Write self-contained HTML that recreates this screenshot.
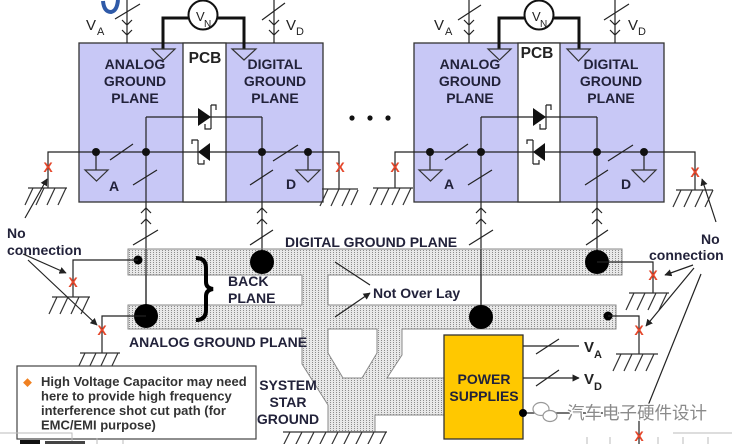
<!DOCTYPE html>
<html><head><meta charset="utf-8">
<style>
html,body{margin:0;padding:0;background:#fff;}
svg{display:block;}
text{font-family:"Liberation Sans","Noto Sans CJK SC",sans-serif;}
.lbl{font-weight:bold;font-size:14px;fill:#22223a;}
.x{font-weight:bold;font-size:14px;fill:#e5472b;text-anchor:middle;}
.w{stroke:#222;stroke-width:1.2;fill:none;}
.g{stroke:#333;stroke-width:1.2;fill:none;}
</style></head><body>
<svg width="732" height="444" viewBox="0 0 732 444" xmlns="http://www.w3.org/2000/svg">
<defs>
<pattern id="dots" width="3" height="2" patternUnits="userSpaceOnUse">
<rect width="3" height="2" fill="#e8e8e8"/>
<rect width="1" height="1" fill="#8c8c8c"/>
</pattern>
<marker id="ah" viewBox="0 0 10 10" refX="9" refY="5" markerWidth="6" markerHeight="6" orient="auto"><path d="M0,0 L10,5 L0,10 z" fill="#222"/></marker>
</defs>

<!-- top-left partial title glyph -->
<path d="M103,1 Q104,12 111,12 Q117,11 118,0" stroke="#2f5aa8" stroke-width="4" fill="none"/>

<!-- ===== LEFT BLOCK ===== -->
<rect x="79" y="43" width="244" height="159" fill="#c8c8f6" stroke="#333" stroke-width="1.3"/>
<rect x="183" y="43" width="43" height="159" fill="#fff" stroke="#333" stroke-width="1.3"/>

<!-- ===== RIGHT BLOCK ===== -->
<rect x="414" y="43" width="250" height="159" fill="#c8c8f6" stroke="#333" stroke-width="1.3"/>
<rect x="518" y="43" width="42" height="159" fill="#fff" stroke="#333" stroke-width="1.3"/>

<!-- top supply lines left -->
<path class="w" d="M127,0 V43 M115,19 L140,4 M122,20 L127,25 L132,20 M122,30 L127,35 L132,30"/>
<path class="w" d="M274,0 V43 M262,20 L285,3 M269,20 L274,25 L279,20 M269,30 L274,35 L279,30"/>
<!-- top supply lines right -->
<path class="w" d="M469,0 V43 M458,20 L481,5 M464,20 L469,25 L474,20 M464,30 L469,35 L474,30"/>
<path class="w" d="M615,0 V43 M604,20 L629,4 M610,20 L615,25 L620,20 M610,30 L615,35 L620,30"/>

<!-- V labels top -->
<text x="86" y="30" font-size="15" fill="#222">V</text><text x="97" y="35" font-size="11" fill="#222">A</text>
<text x="286" y="30" font-size="15" fill="#222">V</text><text x="296" y="35" font-size="11" fill="#222">D</text>
<text x="434" y="30" font-size="15" fill="#222">V</text><text x="445" y="35" font-size="11" fill="#222">A</text>
<text x="628" y="30" font-size="15" fill="#222">V</text><text x="638" y="35" font-size="11" fill="#222">D</text>

<!-- VN meters -->
<path d="M163,49 V18 H190 M216,18 H244 V49" stroke="#111" stroke-width="3" fill="none"/>
<circle cx="203" cy="15" r="14.5" fill="#fff" stroke="#111" stroke-width="2"/>
<text x="196" y="21" font-size="13" fill="#222">V</text><text x="204" y="27" font-size="10" fill="#222">N</text>
<path d="M499,49 V18 H526 M552,18 H579 V49" stroke="#111" stroke-width="3" fill="none"/>
<circle cx="539" cy="15" r="14.5" fill="#fff" stroke="#111" stroke-width="2"/>
<text x="532" y="21" font-size="13" fill="#222">V</text><text x="540" y="27" font-size="10" fill="#222">N</text>
<path class="g" d="M152,49 H175 L163.5,60 Z M232,49 H256 L244,60 Z M488,49 H511 L499.5,60 Z M567,49 H590 L578.5,61 Z"/>

<!-- PCB -->
<text x="205" y="63" font-size="15.5" font-weight="bold" fill="#222" text-anchor="middle">PCB</text>
<text x="537" y="58" font-size="15.5" font-weight="bold" fill="#222" text-anchor="middle">PCB</text>

<!-- block labels -->
<g class="lbl" text-anchor="middle">
<text x="135" y="69">ANALOG</text><text x="135" y="86">GROUND</text><text x="135" y="103">PLANE</text>
<text x="275" y="69">DIGITAL</text><text x="275" y="86">GROUND</text><text x="275" y="103">PLANE</text>
<text x="470" y="69">ANALOG</text><text x="470" y="86">GROUND</text><text x="470" y="103">PLANE</text>
<text x="611" y="69">DIGITAL</text><text x="611" y="86">GROUND</text><text x="611" y="103">PLANE</text>
</g>
<text class="lbl" x="109" y="191">A</text>
<text class="lbl" x="286" y="189">D</text>
<text class="lbl" x="444" y="189">A</text>
<text class="lbl" x="621" y="189">D</text>

<!-- left block wiring -->
<path class="w" d="M146,117 V316 M146,117 H262 M262,117 V262 M48,188 V152 H339 V189"/>
<path class="w" d="M96,152 V170 M308,152 V170"/>
<path class="g" d="M85,170 H108 L96.5,181 Z M296,170 H320 L308,182 Z"/>
<path class="w" d="M110,160 L133,144 M273,161 L298,145 M133,185 L157,170 M250,185 L273,170"/>
<g id="diodes">
<path d="M198,108 L198,126 L211,117 Z" fill="#111"/>
<path class="w" d="M211,105 V129 M211,105 H216 V110 M211,129 H205 V124"/>
<path d="M210,143 L210,161 L198,152 Z" fill="#111"/>
<path class="w" d="M198,140 V164 M198,140 H192 V144 M198,164 H204 V160"/>
</g>
<g fill="#111"><circle cx="96" cy="152" r="4"/><circle cx="146" cy="152" r="4"/><circle cx="262" cy="152" r="4"/><circle cx="308" cy="152" r="4"/></g>

<!-- right block wiring -->
<path class="w" d="M481,117 V317 M481,117 H597 M597,117 V262 M395,188 V152 H695 V190"/>
<path class="w" d="M430,152 V170 M644,152 V170"/>
<path class="g" d="M419,170 H442 L430.5,181 Z M632,170 H656 L644,182 Z"/>
<path class="w" d="M445,160 L468,144 M608,161 L633,145 M468,185 L492,170 M585,185 L608,170"/>
<g transform="translate(335,0)">
<path d="M198,108 L198,126 L211,117 Z" fill="#111"/>
<path class="w" d="M211,105 V129 M211,105 H216 V110 M211,129 H205 V124"/>
<path d="M210,143 L210,161 L198,152 Z" fill="#111"/>
<path class="w" d="M198,140 V164 M198,140 H192 V144 M198,164 H204 V160"/>
</g>
<g fill="#111"><circle cx="430" cy="152" r="4"/><circle cx="481" cy="152" r="4"/><circle cx="597" cy="152" r="4"/><circle cx="644" cy="152" r="4"/></g>

<!-- ellipsis dots -->
<g fill="#111"><circle cx="352" cy="118" r="2.6"/><circle cx="370" cy="118" r="2.6"/><circle cx="388" cy="118" r="2.6"/></g>

<!-- connector symbols below blocks -->
<path class="w" d="M141,213 L146,208 L151,213 M141,224 L146,219 L151,224 M133,245 L158,230"/>
<path class="w" d="M257,213 L262,208 L267,213 M257,224 L262,219 L267,224 M250,245 L273,230"/>
<path class="w" d="M476,213 L481,208 L486,213 M476,224 L481,219 L486,224 M469,245 L493,230"/>
<path class="w" d="M592,213 L597,208 L602,213 M592,224 L597,219 L602,224 M586,245 L608,230"/>

<!-- ===== BACK PLANE / STAR GROUND ===== -->
<path d="M128,249 H622 V275 H328 V305 H616 V329 H402 V355 L387,378 H444 V415 H375 V432 H328 V405 L302,364 V329 H128 V305 H302 V275 H128 Z M328,329 V353 L343,378 H362 L377,353 V329 Z" fill="url(#dots)" fill-rule="evenodd" stroke="#8a8a8a" stroke-width="1"/>
<!-- re-draw vertical lines over strips -->
<path class="w" d="M146,249 V316 M262,249 V262 M481,249 V317 M597,249 V262"/>

<!-- big dots -->
<g fill="#000"><circle cx="262" cy="262" r="12"/><circle cx="146" cy="316" r="12"/><circle cx="597" cy="262" r="12"/><circle cx="481" cy="317" r="12"/><circle cx="138" cy="260" r="4.5"/><circle cx="608" cy="316" r="4.5"/></g>

<!-- ground wires -->
<path class="w" d="M138,260 H73 V297 M146,316 H102 V353 M597,262 H653 V293 M608,316 H639 V354 M523,413 H639 V444"/>

<!-- grounds -->
<path class="g" d="M28,188 H67 M33,188 l-8,17 M44,188 l-8,17 M55,188 l-8,17 M66,188 l-8,17"/>
<path class="g" d="M322,189 H358 M328,189 l-8,17 M339,189 l-8,17 M350,189 l-8,17 M358,190 l-7,15"/>
<path class="g" d="M373,188 H413 M378,188 l-8,17 M389,188 l-8,17 M400,188 l-8,17 M411,188 l-8,17"/>
<path class="g" d="M676,190 H713 M681,190 l-8,17 M692,190 l-8,17 M703,190 l-8,17 M713,190 l-8,17"/>
<path class="g" d="M52,297 H90 M57,297 l-8,17 M68,297 l-8,17 M79,297 l-8,17 M89,297 l-8,17"/>
<path class="g" d="M80,353 H120 M85,353 l-8,17 M96,353 l-8,17 M107,353 l-8,17 M118,353 l-8,17"/>
<path class="g" d="M629,293 H669 M634,293 l-8,17 M645,293 l-8,17 M656,293 l-8,17 M667,293 l-8,17"/>
<path class="g" d="M616,354 H658 M621,354 l-8,17 M632,354 l-8,17 M643,354 l-8,17 M654,354 l-8,17"/>
<path class="g" d="M283,432 H387 M290,432 l-7,14 M302,432 l-7,14 M314,432 l-7,14 M326,432 l-7,14 M338,432 l-7,14 M350,432 l-7,14 M362,432 l-7,14 M374,432 l-7,14 M386,432 l-7,14"/>

<!-- red X marks -->
<text class="x" x="48" y="172">X</text>
<text class="x" x="340" y="172">X</text>
<text class="x" x="395" y="172">X</text>
<text class="x" x="695" y="177">X</text>
<text class="x" x="73" y="287">X</text>
<text class="x" x="102" y="335">X</text>
<text class="x" x="653" y="280">X</text>
<text class="x" x="639" y="335">X</text>
<text class="x" x="639" y="441">X</text>

<!-- strip labels -->
<text class="lbl" x="285" y="247">DIGITAL GROUND PLANE</text>
<text class="lbl" x="129" y="347">ANALOG GROUND PLANE</text>
<text class="lbl" x="228" y="286">BACK</text>
<text class="lbl" x="228" y="303">PLANE</text>
<path d="M196,258 Q206,258 206,268 L206,282 Q206,288 213,289 Q206,290 206,296 L206,310 Q206,320 196,320" stroke="#000" stroke-width="4" fill="none"/>
<text class="lbl" x="373" y="298">Not Over Lay</text>
<path class="w" d="M335,262 L370,285 M335,317 L370,293" marker-end="url(#ah)"/>
<g class="lbl" text-anchor="middle">
<text x="288" y="390">SYSTEM</text><text x="288" y="407">STAR</text><text x="288" y="424">GROUND</text>
</g>

<!-- No connection labels -->
<text class="lbl" x="7" y="238">No</text>
<text class="lbl" x="7" y="255">connection</text>
<text class="lbl" x="701" y="244">No</text>
<text class="lbl" x="649" y="260">connection</text>
<g class="w" marker-end="url(#ah)">
<path d="M25,218 L47,179"/>
<path d="M23,254 L66,273"/>
<path d="M28,260 L97,325"/>
<path d="M716,222 L702,179"/>
<path d="M693,265 L665,275"/>
<path d="M694,268 L646,326"/>
</g>
<path class="w" d="M701,274 L643,418"/>

<!-- power supplies -->
<rect x="444" y="335" width="79" height="104" fill="#ffc800" stroke="#333" stroke-width="1.3"/>
<g class="lbl" text-anchor="middle" fill="#333"><text x="484" y="384">POWER</text><text x="484" y="401">SUPPLIES</text></g>
<path class="w" d="M523,346 H579 M523,378 H579" marker-end="url(#ah)"/>
<path class="w" d="M536,354 L559,339 M536,386 L559,370"/>
<text x="584" y="352" font-size="15" font-weight="bold" fill="#222">V</text><text x="594" y="358" font-size="11" font-weight="bold" fill="#222">A</text>
<text x="584" y="384" font-size="15" font-weight="bold" fill="#222">V</text><text x="594" y="390" font-size="11" font-weight="bold" fill="#222">D</text>
<circle cx="523" cy="413" r="4" fill="#000"/>

<!-- watermark -->
<g stroke="#999" stroke-width="1.2" fill="#fff">
<ellipse cx="541" cy="409" rx="8" ry="6.5"/>
<ellipse cx="550" cy="416" rx="7" ry="5.5"/>
</g>
<text x="567" y="419" font-size="17.5" fill="#8a8a8a" stroke="#fff" stroke-width="2.5" paint-order="stroke" style="font-family:'Noto Sans CJK SC','WenQuanYi Zen Hei',sans-serif;">汽车电子硬件设计</text>

<!-- callout box -->
<rect x="17" y="366" width="239" height="73" fill="#fff" stroke="#444" stroke-width="1.2"/>
<text x="23" y="386" font-size="9" fill="#f08020">◆</text>
<g font-size="13" font-weight="bold" fill="#333">
<text x="41" y="386">High Voltage Capacitor may need</text>
<text x="41" y="400.5">here to provide high frequency</text>
<text x="41" y="415">interference shot cut path (for</text>
<text x="41" y="429.5">EMC/EMI purpose)</text>
</g>

<!-- bottom edge fragments -->
<path d="M0,433 H72 V444 M97,438 V444 M123,440 V444" stroke="#bbb" stroke-width="1" fill="none"/>
<rect x="20" y="440" width="20" height="4" fill="#111"/>
<rect x="45" y="441" width="40" height="3" fill="#444"/>
<path d="M673,433 H732 M587,437 V444 M610,437 V444 M658,437 V444 M683,437 V444 M708,437 V444" stroke="#bbb" stroke-width="1" fill="none"/>
</svg>
</body></html>
